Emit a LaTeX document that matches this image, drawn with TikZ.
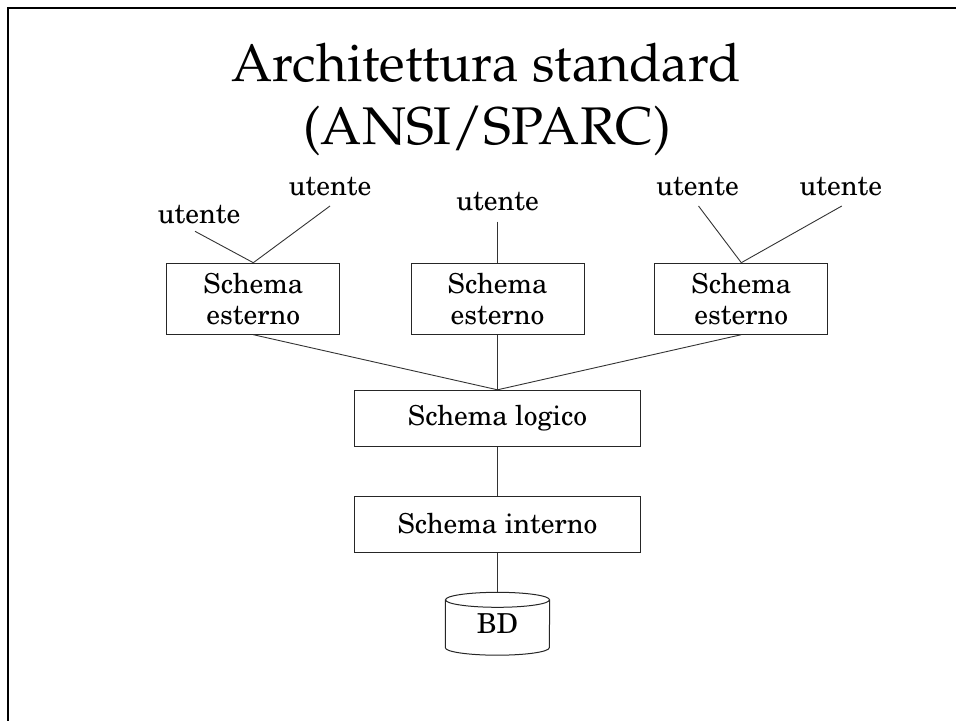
\documentclass[tikz,border=0pt]{standalone}
\usepackage[T1]{fontenc}
\usetikzlibrary{calc}

% Century Schoolbook for the diagram labels, Palatino for the heading
\newcommand{\schoolbook}{\fontfamily{pnc}\fontsize{27.5bp}{31bp}\selectfont}
\newcommand{\headingfont}{\fontfamily{ppl}\fontsize{53bp}{63bp}\selectfont}

\tikzset{
  frame line/.style={line width=2.7bp, black},
  schemabox/.style={draw, line width=1bp, black!85, text=black,
    minimum width=173bp, minimum height=71bp, inner sep=0pt,
    align=center, font=\schoolbook},
  levelbox/.style={schemabox, minimum width=286bp, minimum height=56bp},
  userlabel/.style={font=\schoolbook, inner sep=0pt, outer sep=0pt, anchor=base},
  heading/.style={font=\headingfont, inner sep=0pt, anchor=base},
  link/.style={line width=0.9bp, black!80},
  cyl/.style={line width=1bp, black!85},
}

\begin{document}
\begin{tikzpicture}[x=1bp, y=-1bp]
  \useasboundingbox (0,0) rectangle (956,721);

  % slide frame (left and top edges)
  \draw[frame line] (8,730) -- (8,8) -- (965,8);

  % heading
  \node[heading] (title1) at (486,82) {Architettura standard};
  \node[heading] (title2) at (487,145) {(ANSI/SPARC)};

  % users
  \node[userlabel] (u1) at (199,223.3) {utente};
  \node[userlabel] (u2) at (330,195) {utente};
  \node[userlabel] (u3) at (497.5,210) {utente};
  \node[userlabel] (u4) at (697.5,195) {utente};
  \node[userlabel] (u5) at (840.8,195) {utente};

  % external schemas
  \node[schemabox] (se1) at (253.3,298.7) {Schema\\esterno};
  \node[schemabox] (se2) at (497.5,298.7) {Schema\\esterno};
  \node[schemabox] (se3) at (741.3,298.7) {Schema\\esterno};

  % logical and internal schemas
  \node[levelbox] (logico) at (497.5,418.3) {Schema logico};
  \node[levelbox] (interno) at (497.5,524) {Schema interno};

  % database
  \node[minimum width=104bp, minimum height=63bp, inner sep=0pt,
        font=\schoolbook] (bd) at (497.5,623.5) {\raisebox{-4bp}{BD}};
  \draw[cyl] (bd.north) ++(0,8) ellipse [x radius=52, y radius=7.5];
  \draw[cyl] ([yshift=-8bp]bd.north west)
      -- ([yshift=7.5bp]bd.south west)
      arc[start angle=180, end angle=0, x radius=52, y radius=7.5]
      -- ([yshift=-8bp]bd.north east);

  % users to external schemas
  \draw[link] ([xshift=-4bp,yshift=-8bp]u1.base) -- (se1.north);
  \draw[link] ([yshift=-11bp]u2.base) -- (se1.north);
  \draw[link] ([yshift=-11.7bp]u3.base) -- (se2.north);
  \draw[link] ([xshift=1bp,yshift=-11bp]u4.base) -- (se3.north);
  \draw[link] ([xshift=1bp,yshift=-11bp]u5.base) -- (se3.north);

  % external schemas to logical schema
  \draw[link] (se1.south) -- (logico.north);
  \draw[link] (se2.south) -- (logico.north);
  \draw[link] (se3.south) -- (logico.north);

  % down the stack
  \draw[link] (logico.south) -- (interno.north);
  \draw[link] (interno.south) -- (bd.north);
\end{tikzpicture}
\end{document}
